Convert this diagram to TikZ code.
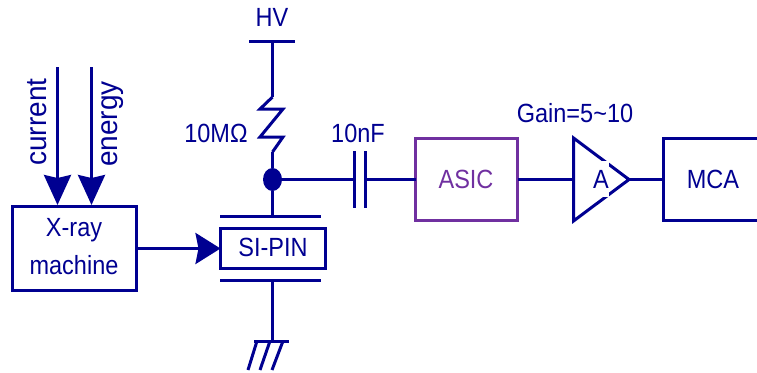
\documentclass[tikz,border=0pt]{standalone}
\usepackage{fontspec}
\usepackage{xcolor}
\usetikzlibrary{arrows.meta,shapes.geometric}
\setmainfont{Liberation Sans}
\definecolor{wireblue}{RGB}{0,0,145}
\definecolor{asicpurple}{RGB}{112,48,160}
\tikzset{
  wire/.style={draw=wireblue, line width=3pt},
  slant/.style={draw=wireblue, line width=3pt},
  bigarrow/.style={wire, -{Stealth[length=30pt,width=27pt,inset=3pt]}},
  lbl/.style={text=wireblue, inner sep=0pt, font=\fontsize{23.5}{26}\selectfont, transform shape, yscale=1.12},
  sidelbl/.style={text=wireblue, inner sep=0pt, font=\fontsize{28}{30}\selectfont, transform shape, rotate=90, yscale=1.05},
  boxnode/.style={wire, inner sep=0pt, outer sep=0pt, anchor=north west}
}
\begin{document}
\begin{tikzpicture}[x=1pt,y=-1pt]
            \useasboundingbox (0,0) rectangle (757,372);
            % left part
            \node [boxnode, minimum width=124pt, minimum height=84pt] (xray) at (12.5,206.5) {};
            \node [lbl] (xraytop) at (74,230) {X-ray};
            \node [lbl] (xraybot) at (74,265) {machine};
            \coordinate (currentin) at (57.5,67);
            \coordinate (energyin) at (91.5,67);
            \coordinate (currentend) at (57.5,205);
            \coordinate (energyend) at (91.5,205);
            \draw [bigarrow] (currentin)-- (currentend);
            \draw [bigarrow] (energyin)-- (energyend);
            \node [sidelbl] (currentlbl) at (37,122) {current};
            \node [sidelbl] (energylbl) at (113,124) {energy};
            % detector
            \node [boxnode, minimum width=105pt, minimum height=40pt] (sipin) at (220.5,228.5) {};
            \node [lbl] (sipinlbl) at (273,247) {SI-PIN};
            \draw [bigarrow, -{Stealth[length=25pt,width=31pt,inset=3pt]}] (xray.east)-- (sipin.west);
            \coordinate (topplatel) at (220,216.5);
            \coordinate (topplater) at (321,216.5);
            \coordinate (topplatem) at (272.5,216.5);
            \coordinate (botplatel) at (220,280.5);
            \coordinate (botplater) at (321,280.5);
            \coordinate (botplatem) at (272.5,280.5);
            \draw [wire] (topplatel)-- (topplater);
            \draw [wire] (botplatel)-- (botplater);
            % ground
            \coordinate (gnd) at (272.5,341.5);
            \coordinate (gndl) at (254,341.5);
            \coordinate (gndr) at (289,341.5);
            \draw [wire] (botplatem)-- (gnd);
            \draw [wire] (gndl)-- (gndr);
            \draw [slant] (257,341)-- (248,370);
            \draw [slant] (270,341)-- (260,370);
            \draw [slant] (283,341)-- (272,370);
            % bias
            \node [lbl] (hvlbl) at (272,17) {HV};
            \coordinate (hv) at (272.5,41.5);
            \coordinate (hvl) at (249,41.5);
            \coordinate (hvr) at (295,41.5);
            \draw [wire] (hvl)-- (hvr);
            \node [ellipse, fill=wireblue, inner sep=0pt, minimum width=19pt, minimum height=23pt] (junction) at (272.5,179.5) {};
            \draw [wire] (hv)-- (272.5,97);
            \draw [slant, line join=miter] (272.5,97)-- (260,109)-- (283,109)-- (260,137)-- (283,137)-- (272.5,152);
            \draw [wire] (272.5,152)-- (junction);
            \draw [wire] (junction)-- (topplatem);
            \node [lbl] (rlbl) at (216,133) {10MΩ};
            % capacitor
            \node [lbl] (clbl) at (358,133) {10nF};
            \coordinate (capl) at (354.5,179.5);
            \coordinate (capr) at (365.5,179.5);
            \draw [wire] (junction)-- (capl);
            \draw [wire] (354.5,151)-- (354.5,208);
            \draw [wire] (365.5,151)-- (365.5,208);
            % readout
            \node [boxnode, draw=asicpurple, minimum width=102pt, minimum height=82pt] (asic) at (415.5,138.5) {};
            \node [lbl, text=asicpurple] (asiclbl) at (466,179) {ASIC};
            \draw [wire] (capr)-- (asic.west);
            \coordinate (ampin) at (573.5,179.5);
            \coordinate (amptop) at (573.5,138);
            \coordinate (ampbot) at (573.5,221);
            \coordinate (amptip) at (629,179.5);
            \coordinate (mcain) at (663.5,179.5);
            \draw [wire] (asic.east)-- (ampin);
            \draw [slant, line join=miter] (amptop)-- (amptip)-- (ampbot)-- cycle;
            \draw [wire] (amptip)-- (mcain);
            \node [lbl, fill=white, minimum width=14pt, minimum height=32pt] (amplbl) at (601,179) {A};
            \node [lbl] (gainlbl) at (575,113) {Gain=5\char`\~10};
            \coordinate (mcatop) at (757,138.5);
            \coordinate (mcabot) at (757,220.5);
            \draw [wire] (mcatop)-- (663.5,138.5)-- (663.5,220.5)-- (mcabot);
            \node [lbl] (mcalbl) at (713,179) {MCA};
        \end{tikzpicture}
\end{document}
